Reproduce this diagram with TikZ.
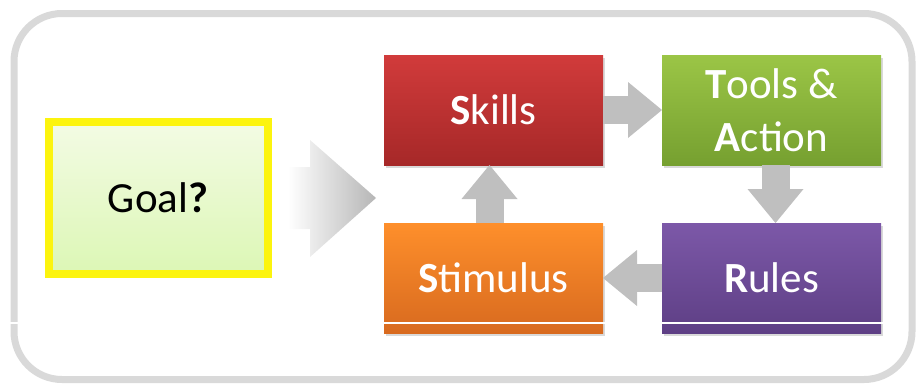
\documentclass[tikz,border=0pt]{standalone}
\usepackage{fontspec}
\setmainfont{Carlito}
\usetikzlibrary{arrows.meta,shadows}

\definecolor{framegray}{HTML}{D9D9D9}
\definecolor{arrowgray}{HTML}{BFBFBF}
\definecolor{chevgray}{HTML}{B6B6B6}
\definecolor{goalyellow}{HTML}{FCF40E}

\begin{document}
\begin{tikzpicture}[x=1pt,y=-1pt,
	card/.style={rectangle, minimum width=219pt, minimum height=110pt,
		inner sep=0pt, outer sep=0pt, text=white, align=center,
		font=\fontsize{43}{53}\selectfont,
		drop shadow={shadow xshift=2pt, shadow yshift=-3pt, opacity=.3}},
	flow/.style={draw=arrowgray, line width=28pt,
		-{Triangle[width=56pt, length=34pt, line width=0pt]}}]
	\useasboundingbox (0,0) rectangle (917,383);
	\draw[framegray, line width=7pt, rounded corners=48pt] (14,13.5) rectangle (912,379.5);
	
	% goal and the big arrow
	\node[card, minimum height=152pt, draw=goalyellow, line width=8pt, text=black,
		top color={rgb,255:red,243;green,251;blue,228}, bottom color={rgb,255:red,220;green,247;blue,181}
		] (goal) at (158,198) {Goal\textbf{?}};
	\shade[left color=white, right color=chevgray] (288,167) -- (310,167) -- (310,140) -- (376,198)
		-- (310,257) -- (310,229) -- (288,229) -- cycle;
	
	% the cycle
	\node[card, top color={rgb,255:red,209;green,59;blue,59}, bottom color={rgb,255:red,166;green,40;blue,40}
		] (skills) at (493.5,110) {\textbf{S}kills};
	\node[card, top color={rgb,255:red,155;green,197;blue,70}, bottom color={rgb,255:red,118;green,160;blue,48}
		] (tools) at (771.5,110) {\textbf{T}ools \&\\\textbf{A}ction};
	\node[card, top color={rgb,255:red,254;green,143;blue,43}, bottom color={rgb,255:red,216;green,106;blue,31}
		] (stimulus) at (493.5,278) {\textbf{S}timulus};
	\node[card, top color={rgb,255:red,124;green,88;blue,168}, bottom color={rgb,255:red,94;green,63;blue,133}
		] (rules) at (771.5,278) {\textbf{R}ules};
	
	\draw[flow] (skills) -- (tools);
	\draw[flow] ([xshift=4pt]tools.south) -- ([xshift=4pt]rules.north);
	\draw[flow] (rules) -- (stimulus);
	\draw[flow] ([xshift=-4pt]stimulus.north) -- ([xshift=-4pt]skills.south);
	
	\draw[white, line width=1.2pt] (8,323) -- (884,323);
\end{tikzpicture}
\end{document}
